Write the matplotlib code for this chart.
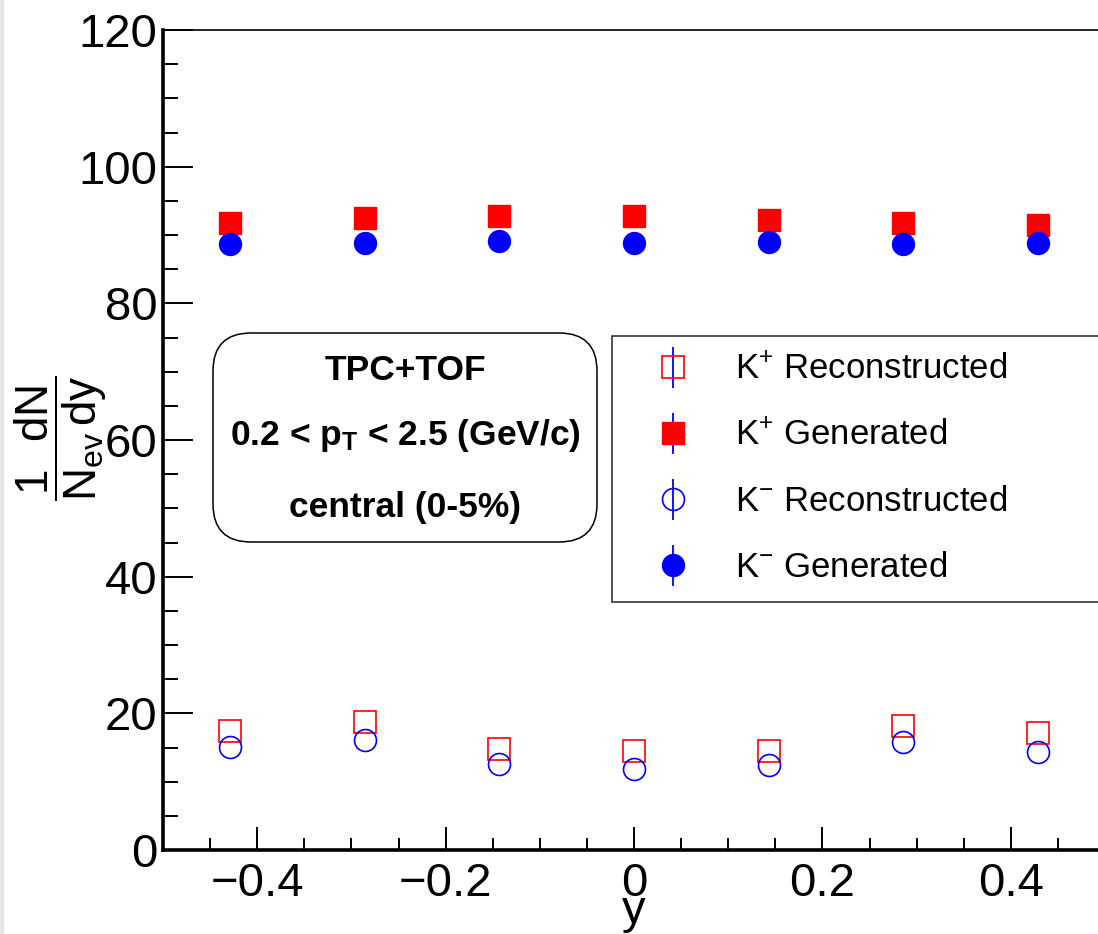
import numpy as np
import matplotlib
matplotlib.use("Agg")
import matplotlib.pyplot as plt
from matplotlib.patches import FancyBboxPatch, Rectangle
from matplotlib.container import ErrorbarContainer
from matplotlib.legend_handler import HandlerErrorbar
from matplotlib.ticker import MultipleLocator

plt.rcParams['font.family'] = ['Liberation Sans', 'DejaVu Sans']
plt.rcParams['mathtext.fontset'] = 'custom'
plt.rcParams['mathtext.rm'] = 'Liberation Sans'
plt.rcParams['mathtext.it'] = 'Liberation Sans:italic'
plt.rcParams['mathtext.bf'] = 'Liberation Sans:bold'
plt.rcParams['mathtext.default'] = 'regular'

# rapidity bin centres and yields
y_bins = [-0.4286, -0.2857, -0.1429, 0.0, 0.1429, 0.2857, 0.4286]
kp_rec = [17.4, 18.7, 14.8, 14.5, 14.5, 18.1, 17.1]
kp_gen = [91.8, 92.5, 92.8, 92.8, 92.2, 91.8, 91.5]
km_rec = [15.1, 16.1, 12.6, 11.9, 12.5, 15.8, 14.4]
km_gen = [88.7, 88.9, 89.1, 88.9, 89.0, 88.7, 88.9]
k_err = [0, 0, 0, 0, 0, 0, 0]

labels = ["K$^{+}$ Reconstructed", "K$^{+}$ Generated",
          "K$^{-}$ Reconstructed", "K$^{-}$ Generated"]
x_ticks = [-0.4, -0.2, 0, 0.2, 0.4]
x_tick_labels = ["\u22120.4", "\u22120.2", "0", "0.2", "0.4"]
y_ticks = [0, 20, 40, 60, 80, 100, 120]
y_tick_labels = ["0", "20", "40", "60", "80", "100", "120"]
info_lines = ["TPC+TOF", r"0.2 < p$_{\mathbf{T}}$ < 2.5 (GeV/c)", "central (0-5%)"]

W, H = 1098, 934
fig = plt.figure(figsize=(W / 100, H / 100), dpi=100)
ax = fig.add_axes([163 / W, 84 / H, 942 / W, 820 / H])

# thin grey stripe at the left edge
fig.patches.append(Rectangle((0, 0), 3 / W, 1, transform=fig.transFigure,
                             color="#e6e6e6", zorder=0))

ms = 15.8
ax.errorbar(y_bins, kp_rec, yerr=k_err, fmt='s', ms=ms, mfc='none', mec='red',
            mew=1.2, ecolor='blue', elinewidth=1.3, label=labels[0])
ax.errorbar(y_bins, kp_gen, yerr=k_err, fmt='s', ms=ms, mfc='red', mec='red',
            mew=1.0, ecolor='blue', elinewidth=1.3, label=labels[1])
ax.errorbar(y_bins, km_rec, yerr=k_err, fmt='o', ms=ms, mfc='none', mec='blue',
            mew=1.2, ecolor='blue', elinewidth=1.3, label=labels[2])
ax.errorbar(y_bins, km_gen, yerr=k_err, fmt='o', ms=ms, mfc='blue', mec='blue',
            mew=1.0, ecolor='blue', elinewidth=1.3, label=labels[3])

ax.set_xlim(-0.5, 0.5)
ax.set_ylim(0, 120)
ax.set_xticks(x_ticks)
ax.set_xticklabels(x_tick_labels)
ax.set_yticks(y_ticks)
ax.set_yticklabels(y_tick_labels)
ax.xaxis.set_minor_locator(MultipleLocator(0.05))
ax.yaxis.set_minor_locator(MultipleLocator(5))

ax.tick_params(axis='both', which='both', direction='in', top=False, right=False,
               width=1.4, labelsize=34)
ax.tick_params(axis='y', which='major', length=21.6, pad=4)
ax.tick_params(axis='y', which='minor', length=10.8)
ax.tick_params(axis='x', which='major', length=16.5, pad=9)
ax.tick_params(axis='x', which='minor', length=9)

ax.spines['right'].set_visible(False)
ax.spines['top'].set_linewidth(1.2)
ax.spines['left'].set_linewidth(2.6)
ax.spines['bottom'].set_linewidth(2.6)

ax.set_xlabel("y", fontsize=34)
ax.xaxis.set_label_coords(0.5, -0.048)
ax.set_ylabel(r"$\dfrac{1\;\;\,dN}{N_{ev}\,dy}$", fontsize=33, va='center', ha='center')
ax.yaxis.set_label_coords(-0.108, 0.502)

leg = ax.legend(loc='upper left', mode='expand',
                bbox_to_anchor=(449 / 942, (850 - 601) / 820, 493 / 942, (601 - 336) / 820),
                fontsize=25, frameon=True, fancybox=False, borderaxespad=0,
                borderpad=0.5, handlelength=2.5, handletextpad=0.54, labelspacing=0.95,
                handler_map={ErrorbarContainer: HandlerErrorbar(xerr_size=0.59)})
leg.get_frame().set_edgecolor('black')
leg.get_frame().set_linewidth(1.2)

# rounded info box
tr = fig.dpi_scale_trans
box = FancyBboxPatch((2.13, (H - 542) / 100), 3.84, 2.09,
                     boxstyle="round,pad=0,rounding_size=0.38",
                     transform=tr, fc='white', ec='black', lw=1.1, zorder=5)
fig.patches.append(box)
for txt, ypix in zip(info_lines, [370, 436, 508]):
    fig.text(4.05, (H - ypix) / 100, txt, transform=tr, ha='center', va='center',
             fontsize=25.5, fontweight='bold', zorder=6)

fig.savefig("out.png", dpi=100)
